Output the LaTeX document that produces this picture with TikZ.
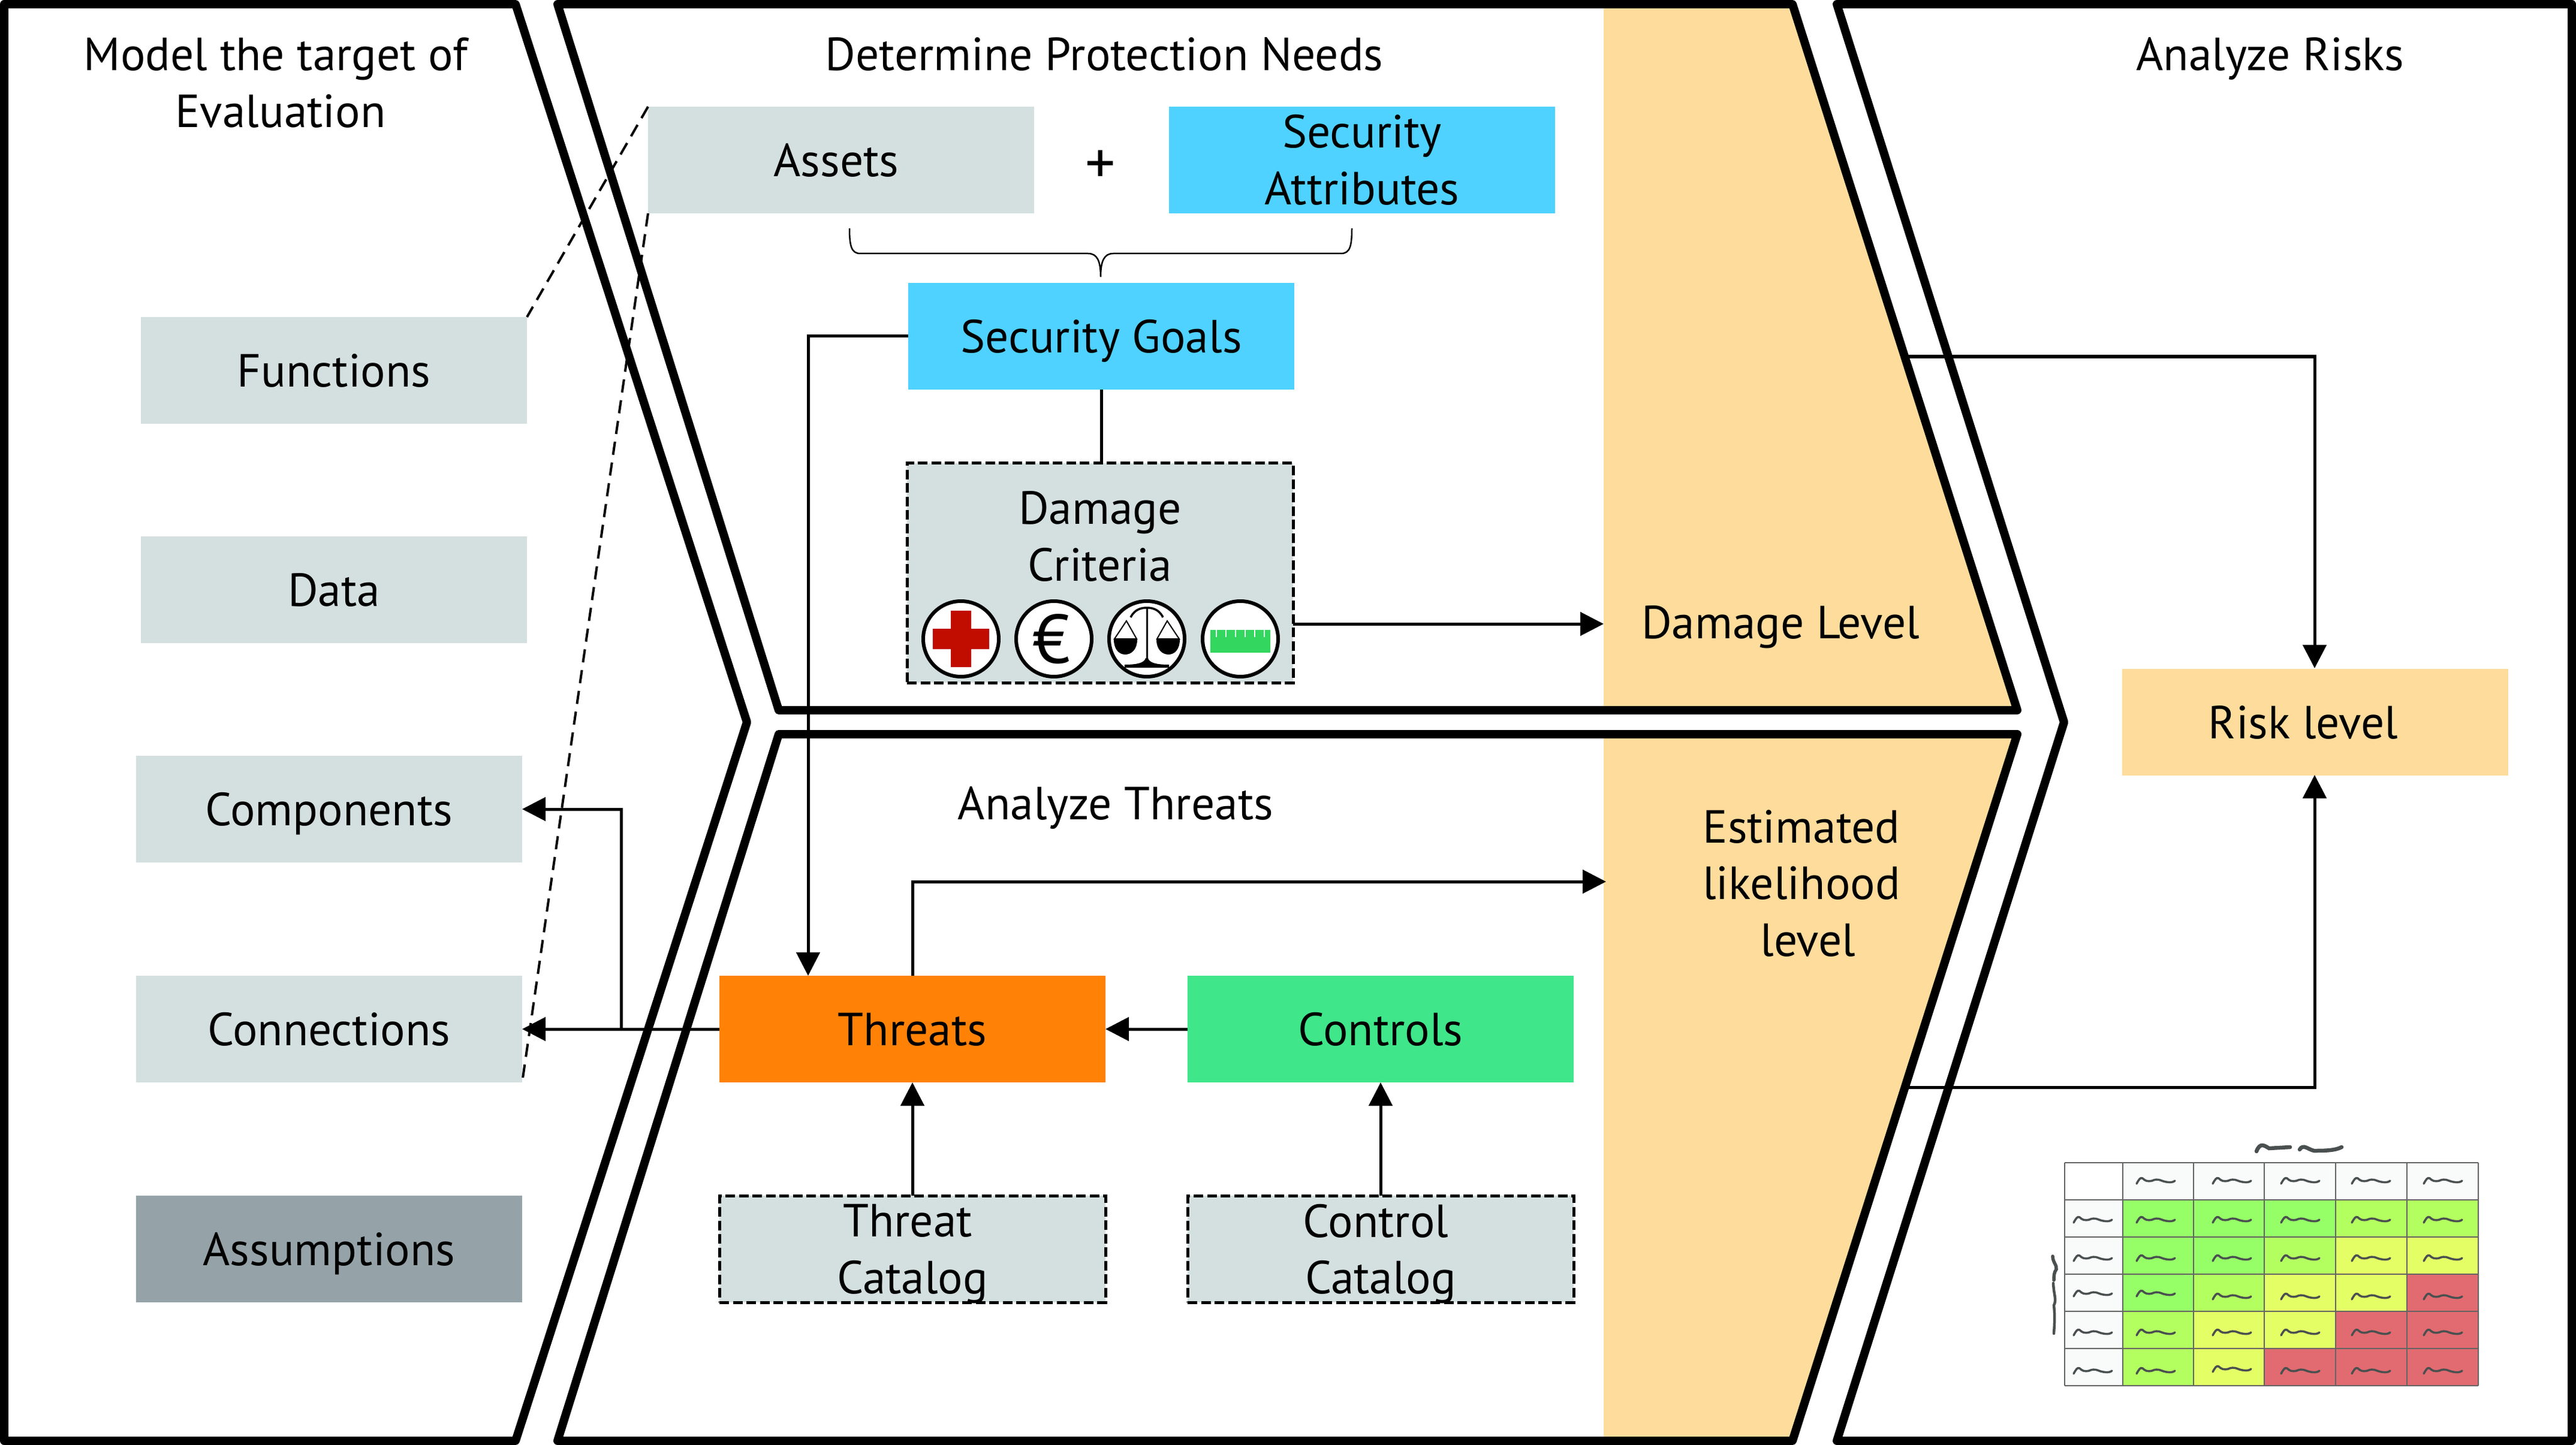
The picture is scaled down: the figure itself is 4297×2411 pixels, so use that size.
\documentclass[tikz,border=0pt]{standalone}
\usepackage{fontspec}
\setmainfont{PT Sans}
\usetikzlibrary{arrows.meta,calc}
\definecolor{boxg}{HTML}{D4DFDF}
\definecolor{boxd}{HTML}{95A3A8}
\definecolor{sky}{HTML}{4FD2FF}
\definecolor{beige}{HTML}{FDDC9C}
\definecolor{orng}{HTML}{FF8207}
\definecolor{mint}{HTML}{3FE68A}
\definecolor{mg}{HTML}{96FF68}
\definecolor{ml}{HTML}{B4FF60}
\definecolor{my}{HTML}{E4FF66}
\definecolor{mr}{HTML}{E16B70}
\definecolor{mw}{HTML}{F9FBFB}
\definecolor{sqc}{HTML}{4A5050}
\definecolor{crossred}{HTML}{C00D00}
\definecolor{rulerg}{HTML}{33D65E}
\tikzset{
  x=0.2pt,y=-0.2pt,
  every node/.style={font=\fontsize{15.5}{18.9}\selectfont,text=black,align=center,inner sep=0pt,outer sep=0pt},
  box/.style={minimum width=128.8pt,minimum height=35.6pt,rectangle},
  one/.style={text height=11pt,text depth=0pt},
  dbox/.style={box,draw=black,line width=1pt,dash pattern=on 3.2pt off 1.3pt},
  chev/.style={draw=black,line width=2.8pt,line join=round},
  conn/.style={draw=black,line width=1pt},
  arr/.style={conn,-{Triangle[length=7.8pt,width=7.8pt]}},
  dline/.style={draw=black,line width=0.8pt,dash pattern=on 4.4pt off 2.6pt},
  sq/.style={draw=sqc,line width=0.7pt,line cap=round},
  grd/.style={draw=black!60!mw,line width=0.4pt},
  ico/.style={draw=black,fill=white,line width=1.2pt},
}
\newcommand{\sqg}[2]{\draw[sq,shift={(#1,#2)}] (-32,5) .. controls (-28,-2) and (-26,-6) .. (-22,-4) .. controls (-18,0) and (-14,2) .. (-6,0) .. controls (-2,-2) and (3,-3) .. (10,0) .. controls (18,3) and (28,4) .. (32,0);}
\begin{document}
\begin{tikzpicture}
\useasboundingbox (0,0) rectangle (4297,2411);
\fill[white] (0,0) rectangle (4297,2411);
% beige bands
\fill[beige] (2675,7) -- (2990,7) -- (3365,1185) -- (2675,1185) -- cycle;
\fill[beige] (2675,1225) -- (3365,1225) -- (2990,2404) -- (2675,2404) -- cycle;
% chevrons
\draw[chev] (7,7) -- (860,7) -- (1246,1205) -- (860,2404) -- (7,2404) -- cycle;
\draw[chev] (930,7) -- (2990,7) -- (3365,1185) -- (1299,1185) -- cycle;
\draw[chev] (930,2404) -- (2990,2404) -- (3365,1225) -- (1299,1225) -- cycle;
\draw[chev] (3064,7) -- (4290,7) -- (4290,2404) -- (3064,2404) -- (3443,1205) -- cycle;
% boxes
\node[box,one,fill=boxg] (functions) at (557,618) {Functions};
\node[box,one,fill=boxg] (data) at (557,984) {Data};
\node[box,one,fill=boxg] (components) at (549,1350) {Components};
\node[box,one,fill=boxg] (connections) at (549,1717) {Connections};
\node[box,one,fill=boxd] (assumptions) at (549,2084) {Assumptions};
\node[box,one,fill=boxg] (assets) at (1403,267) {\hspace*{-3.2pt}Assets};
\node[box,fill=sky] (attrs) at (2272,267) {Security\\Attributes};
\node[font=\fontsize{20}{20}\selectfont] (plus) at (1836,279) {+};
\node[box,one,fill=sky] (goals) at (1837,561) {Security Goals};
\node[dbox,fill=boxg,minimum height=73.2pt] (damage) at (1835,956) {};
\node (damagetext) at (1835,895) {Damage\\Criteria};
\node[box,one,fill=orng] (threats) at (1522,1717) {Threats};
\node[box,one,fill=mint] (controls) at (2303,1717) {Controls};
\node[dbox,text depth=0pt,fill=boxg] (tcat) at (1522,2084) {\hspace*{-3.2pt}Threat\\Catalog};
\node[dbox,text depth=0pt,fill=boxg] (ccat) at (2303,2084) {\hspace*{-3.2pt}Control\\Catalog};
\node[box,one,fill=beige] (risk) at (3862,1205) {\hspace*{-8pt}Risk level};
% titles
\node (t1) at (460,138) {Model the target of\\\hspace*{3.2pt}Evaluation};
\node[one] (t2) at (1842,90) {Determine Protection Needs};
\node[one] (t3) at (3787,90) {Analyze Risks};
\node[one] (t4) at (1861,1340) {Analyze Threats};
\node[one] (dl) at (2970,1038) {Damage Level};
\node (ell) at (3005,1474) {Estimated\\likelihood\\\hspace*{4.4pt}level};
% named free ends
\coordinate (dlin) at (2675,1041);
\coordinate (ellin) at (2679,1471);
\coordinate (upband) at (3173,595);
\coordinate (loband) at (3173,1814);
\coordinate (riskt) at (3861,1115);
\coordinate (riskb) at (3861,1293);
\coordinate (thn) at (1348,1628);
\coordinate (branch) at (1036,1717);
\coordinate (compe) at (components.east);
% dashed
\draw[dline] (assets.north west) -- (functions.north east);
\draw[dline] (assets.south west) -- (connections.south east);
% brace
\coordinate (bl) at (1417,381);
\coordinate (br) at (2255,381);
\coordinate (bt) at (1836,462);
\draw[black,line width=0.5pt] (bl) .. controls (1417,410) and (1420,423) .. (1435,423) -- (1815,423) .. controls (1830,423) and (1836,435) .. (bt) .. controls (1836,435) and (1842,423) .. (1857,423) -- (2237,423) .. controls (2252,423) and (2255,410) .. (br);
% connectors
\draw[conn] (goals.south) -- (goals.south |- damage.north);
\draw[arr] (goals.west) -| (thn);
\draw[arr] (damage.east |- dlin) -- (dlin);
\draw[arr] (threats.west) -- (connections.east);
\draw[arr] (branch) |- (compe);
\draw[arr] (threats.north) |- (ellin);
\draw[arr] (controls.west) -- (threats.east);
\draw[arr] (tcat.north) -- (threats.south);
\draw[arr] (ccat.north) -- (controls.south);
\draw[arr] (upband) -| (riskt);
\draw[arr] (loband) -| (riskb);
% icons
\draw[ico] (1603,1066) circle (63);
\fill[crossred] (1586,1019) rectangle (1620,1113) (1556,1049) rectangle (1650,1083);
\draw[ico] (1758,1066) circle (63);
\node[font=\fontsize{23}{23}\selectfont] (euro) at (1754,1066) {€};
\draw[ico] (1913,1066) circle (63);
\begin{scope}[shift={(1913,1066)}]
  \draw[black,line width=0.6pt] (0,-52) -- (0,36);
  \draw[black,line width=0.7pt] (-27,-36) .. controls (-20,-50) and (-8,-52) .. (0,-52) .. controls (8,-52) and (20,-50) .. (27,-36);
  \draw[black,line width=0.4pt] (-54,0) -- (-34,-30) -- (-17,0) -- cycle;
  \draw[black,line width=0.4pt] (54,0) -- (34,-30) -- (17,0) -- cycle;
  \fill[black] (-55,1) .. controls (-55,18) and (-46,26) .. (-36,26) .. controls (-26,26) and (-16,18) .. (-16,1) -- cycle;
  \fill[black] (16,1) .. controls (16,18) and (26,26) .. (36,26) .. controls (46,26) and (55,18) .. (55,1) -- cycle;
  \fill[black] (-2,32) -- (2,32) .. controls (4,40) and (16,43) .. (37,43) -- (37,48) -- (-37,48) -- (-37,43) .. controls (-16,43) and (-4,40) .. (-2,32) -- cycle;
\end{scope}
\draw[ico] (2069,1066) circle (63);
\fill[rulerg] (2019,1051) rectangle (2119,1089);
\foreach \t in {-40,-24,-8,8,24,40} \draw[white,line width=0.3pt] (2069+\t,1051) -- (2069+\t,1063);
% risk matrix
\fill[mw] (3541,1940) rectangle (4134,2002) (3444,2002) rectangle (3541,2312);
\foreach \xa/\ya/\xb/\yb/\c in {
  3541/2002/3896/2064/mg, 3896/2002/4134/2064/ml,
  3541/2064/3777/2126/mg, 3777/2064/3896/2126/ml, 3896/2064/4134/2126/my,
  3541/2126/3659/2188/mg, 3659/2126/3777/2188/ml, 3777/2126/4015/2188/my, 4015/2126/4134/2188/mr,
  3541/2188/3659/2250/ml, 3659/2188/3896/2250/my, 3896/2188/4134/2250/mr,
  3541/2250/3659/2312/ml, 3659/2250/3777/2312/my, 3777/2250/4134/2312/mr}
  \fill[\c] (\xa,\ya) rectangle (\xb,\yb);
\foreach \x in {3444,3541,3659,3777,3896,4015,4134} \draw[grd] (\x,1940) -- (\x,2312);
\foreach \y in {1940,2002,2064,2126,2188,2250,2312} \draw[grd] (3444,\y) -- (4134,\y);
\foreach \x in {3596,3723,3837,3955,4075} {\sqg{\x}{1970}\sqg{\x}{2035}\sqg{\x}{2099}\sqg{\x}{2223}}
\foreach \y in {2035,2099,2158,2223,2287} {\sqg{3491}{\y}}
\foreach \x/\y in {3596/2158,3723/2163,3837/2163,3955/2163,4075/2163,3596/2287,3723/2284,3837/2287,3955/2287,4075/2287} {\sqg{\x}{\y}}
% scribbles around the matrix
\draw[sqc,line width=1.3pt,line cap=round] (3764,1921) .. controls (3770,1905) and (3778,1912) .. (3785,1916) -- (3820,1914);
\draw[sqc,line width=1.3pt,line cap=round] (3836,1918) .. controls (3842,1908) and (3850,1918) .. (3860,1920) .. controls (3875,1920) and (3895,1920) .. (3906,1914);
\draw[sqc,line width=1.1pt,line cap=round] (3424,2096) .. controls (3424,2106) and (3432,2112) .. (3430,2118) .. controls (3426,2123) and (3426,2130) .. (3426,2136);
\draw[sqc,line width=0.9pt,line cap=round] (3425,2141) .. controls (3426,2162) and (3431,2168) .. (3426,2178) .. controls (3428,2195) and (3427,2210) .. (3426,2225);
\end{tikzpicture}
\end{document}
